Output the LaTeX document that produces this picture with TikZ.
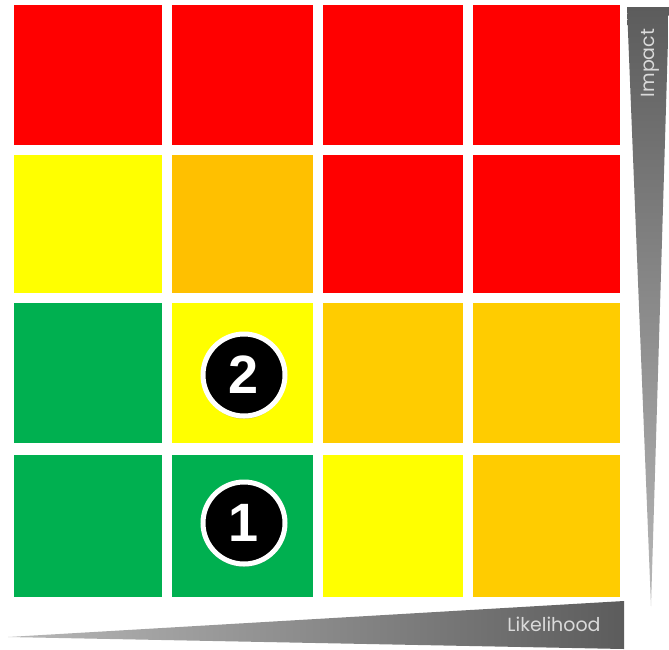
\documentclass[tikz,border=0pt]{standalone}
\usepackage{fontspec}
\setmainfont{Liberation Sans}
\newfontfamily\axisfont{Poppins}
\usetikzlibrary{shadows}
\definecolor{rred}{HTML}{FF0000}
\definecolor{ryel}{HTML}{FFFF00}
\definecolor{rorA}{HTML}{FFC000}
\definecolor{rorB}{HTML}{FFCC00}
\definecolor{rgrn}{HTML}{00B050}
\definecolor{axdark}{HTML}{5C5C5C}
\definecolor{axlight}{HTML}{B8B8B8}
\definecolor{axtext}{HTML}{DADADA}
\begin{document}
\begin{tikzpicture}[x=1pt,y=-1pt,
  cell/.style={inner sep=0pt,outer sep=0pt,draw=none},
  badge/.style={circle,fill=black,draw=white,line width=5pt,minimum size=82pt,inner sep=0pt,
     text=white,font=\fontsize{54}{54}\selectfont\bfseries,
     drop shadow={shadow xshift=0pt,shadow yshift=-3pt,opacity=0.35}},
  axlabel/.style={text=axtext,font=\axisfont\fontsize{19}{19}\selectfont,inner sep=0pt}]
\useasboundingbox (0,0) rectangle (669,649);
\fill[white] (0,0) rectangle (669,649);
% row 1
\node[cell,fill=rred,minimum width=148pt,minimum height=140pt] (c11) at (88,75) {};
\node[cell,fill=rred,minimum width=141pt,minimum height=140pt] (c12) at (242.5,75) {};
\node[cell,fill=rred,minimum width=140pt,minimum height=140pt] (c13) at (393,75) {};
\node[cell,fill=rred,minimum width=147pt,minimum height=140pt] (c14) at (546.5,75) {};
% row 2
\node[cell,fill=ryel,minimum width=148pt,minimum height=138pt] (c21) at (88,224) {};
\node[cell,fill=rorA,minimum width=141pt,minimum height=138pt] (c22) at (242.5,224) {};
\node[cell,fill=rred,minimum width=140pt,minimum height=138pt] (c23) at (393,224) {};
\node[cell,fill=rred,minimum width=147pt,minimum height=138pt] (c24) at (546.5,224) {};
% row 3
\node[cell,fill=rgrn,minimum width=148pt,minimum height=140pt] (c31) at (88,373) {};
\node[cell,fill=ryel,minimum width=141pt,minimum height=140pt] (c32) at (242.5,373) {};
\node[cell,fill=rorB,minimum width=140pt,minimum height=140pt] (c33) at (393,373) {};
\node[cell,fill=rorB,minimum width=147pt,minimum height=140pt] (c34) at (546.5,373) {};
% row 4
\node[cell,fill=rgrn,minimum width=148pt,minimum height=142pt] (c41) at (88,526) {};
\node[cell,fill=rgrn,minimum width=141pt,minimum height=142pt] (c42) at (242.5,526) {};
\node[cell,fill=ryel,minimum width=140pt,minimum height=142pt] (c43) at (393,526) {};
\node[cell,fill=rorB,minimum width=147pt,minimum height=142pt] (c44) at (546.5,526) {};
% badges
\node[badge] (b2) at (244,375) {2};
\node[badge] (b1) at (244,523) {1};
% impact axis (vertical wedge)
\shade[top color=axdark,bottom color=axlight] (627,7) -- (669,7) -- (651,606) -- cycle;
\node[axlabel,rotate=90] (impact) at (650,63) {Impact};
% likelihood axis (horizontal wedge)
\shade[left color=axlight,right color=axdark] (8,637) -- (624,601) -- (624,649) -- cycle;
\node[axlabel] (likelihood) at (554,624) {Likelihood};
\end{tikzpicture}
\end{document}
